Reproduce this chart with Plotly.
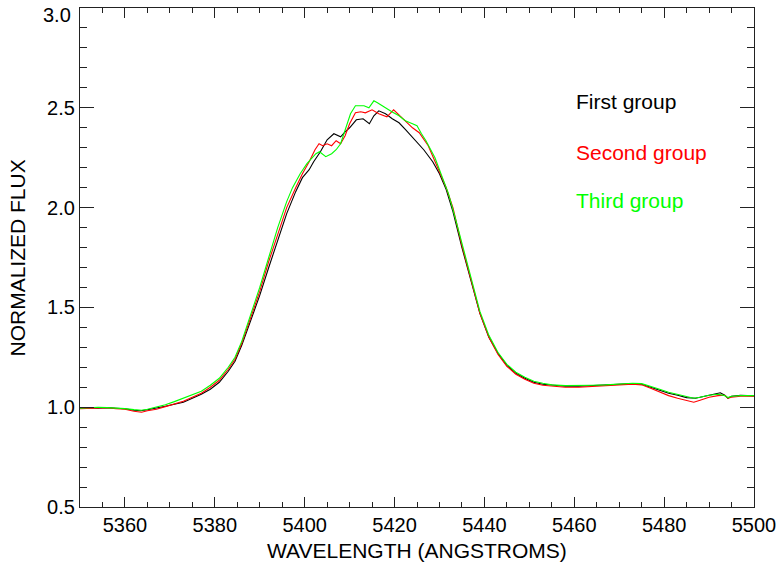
import plotly.graph_objects as go

# ---- data ----
wave_first = [5350, 5352, 5354, 5356, 5358, 5360, 5362, 5363.5, 5365, 5367, 5369, 5371, 5373, 5375,
              5377, 5379, 5381, 5383, 5384.5, 5386, 5388, 5390, 5392, 5394, 5396, 5398, 5399.5, 5401,
              5402, 5403.5, 5405, 5406.5, 5408, 5409, 5410, 5411.5, 5413, 5414.4, 5415.4, 5416.5, 5418,
              5419.5, 5421, 5422.5, 5424.5, 5426.5, 5428.5, 5430, 5431.5, 5433, 5435, 5437, 5439, 5441,
              5443, 5445, 5447, 5449, 5451, 5453, 5455, 5458, 5461, 5464, 5467, 5470, 5473, 5475, 5477,
              5479, 5481, 5483, 5485, 5487, 5489, 5491, 5492.5, 5493.5, 5494.2, 5495, 5497, 5500]
flux_first = [0.995, 0.997, 0.995, 0.998, 0.995, 0.992, 0.985, 0.982, 0.987, 0.995, 1.005, 1.015, 1.025, 1.045,
              1.065, 1.09, 1.125, 1.18, 1.23, 1.31, 1.43, 1.56, 1.70, 1.84, 1.97, 2.08, 2.15, 2.19,
              2.23, 2.28, 2.34, 2.37, 2.355, 2.38, 2.40, 2.44, 2.445, 2.42, 2.46, 2.485, 2.47,
              2.445, 2.425, 2.39, 2.34, 2.29, 2.23, 2.17, 2.09, 1.98, 1.80, 1.63, 1.47, 1.35,
              1.27, 1.21, 1.17, 1.145, 1.125, 1.115, 1.11, 1.105, 1.105, 1.108, 1.11, 1.115, 1.118, 1.115, 1.10,
              1.085, 1.07, 1.06, 1.048, 1.045, 1.055, 1.065, 1.072, 1.06, 1.045, 1.055, 1.06, 1.057]

wave_second = [5350, 5352, 5354, 5356, 5358, 5360, 5362, 5363.7, 5365, 5367, 5369, 5371, 5373, 5375,
               5377, 5379, 5381, 5383, 5384.5, 5386, 5388, 5390, 5392, 5394, 5396, 5398, 5399.5, 5401,
               5402.3, 5403.2, 5404, 5405, 5406, 5407, 5408, 5409, 5410, 5411.3, 5412.5, 5413.5, 5415,
               5416.5, 5418.3, 5419.8, 5421, 5422.5, 5424, 5425.5, 5427.5, 5429.8, 5431.5, 5433, 5435,
               5437, 5439, 5441, 5443, 5445, 5447, 5449, 5451, 5453, 5455, 5458, 5461, 5464, 5467, 5470,
               5473, 5475, 5477, 5479, 5481, 5483, 5485, 5486.6, 5488, 5490, 5492, 5493.5, 5494.2, 5495,
               5497, 5500]
flux_second = [0.993, 0.995, 0.997, 0.997, 0.993, 0.99, 0.98, 0.975, 0.982, 0.99, 1.003, 1.015, 1.03, 1.05,
               1.07, 1.10, 1.135, 1.19, 1.24, 1.32, 1.45, 1.58, 1.73, 1.87, 2.0, 2.10, 2.17, 2.23,
               2.29, 2.32, 2.31, 2.32, 2.31, 2.335, 2.32, 2.36, 2.42, 2.475, 2.48, 2.475, 2.49,
               2.47, 2.455, 2.49, 2.465, 2.43, 2.40, 2.375, 2.31, 2.19, 2.10, 2.0, 1.81,
               1.64, 1.47, 1.35, 1.265, 1.205, 1.165, 1.14, 1.12, 1.11, 1.105, 1.10, 1.10, 1.105, 1.108, 1.112,
               1.115, 1.112, 1.095, 1.075, 1.058, 1.045, 1.032, 1.025, 1.035, 1.05, 1.058, 1.06, 1.045, 1.05,
               1.055, 1.055]

wave_third = [5350, 5352, 5354, 5356, 5358, 5360, 5362, 5363.7, 5365, 5367, 5369, 5371, 5373, 5375,
              5377, 5379, 5381, 5383, 5384.5, 5386, 5388, 5390, 5392, 5394, 5396, 5397.3, 5399, 5400.5,
              5401.5, 5402.5, 5403.3, 5404.7, 5406, 5407, 5408, 5408.7, 5410.2, 5411.3, 5413.2, 5414.3,
              5415.4, 5416.2, 5417.2, 5419.4, 5421, 5422.4, 5424, 5425, 5426, 5427, 5429, 5430.5, 5432,
              5433.5, 5435, 5437, 5439, 5441, 5443, 5445, 5447, 5449, 5451, 5453, 5455, 5458, 5461, 5464,
              5467, 5470, 5473, 5475, 5477, 5479, 5481, 5483, 5485, 5486.6, 5488, 5490, 5492, 5493.5,
              5494.2, 5495, 5497, 5500]
flux_third = [0.995, 0.997, 1.0, 0.998, 0.996, 0.993, 0.988, 0.985, 0.99, 1.0, 1.012, 1.028, 1.045, 1.06,
              1.08, 1.11, 1.145, 1.2, 1.25, 1.33, 1.46, 1.60, 1.75, 1.90, 2.03, 2.10, 2.17, 2.22,
              2.245, 2.27, 2.28, 2.255, 2.27, 2.29, 2.32, 2.37, 2.47, 2.51, 2.51, 2.50,
              2.535, 2.525, 2.51, 2.48, 2.46, 2.435, 2.42, 2.41, 2.37, 2.335, 2.25, 2.16, 2.07,
              1.95, 1.82, 1.645, 1.48, 1.36, 1.275, 1.215, 1.175, 1.15, 1.13, 1.12, 1.112, 1.108, 1.108, 1.11,
              1.112, 1.115, 1.12, 1.118, 1.105, 1.09, 1.075, 1.065, 1.052, 1.045, 1.05, 1.06, 1.065, 1.058,
              1.048, 1.055, 1.058, 1.058]

series_names = ["First group", "Second group", "Third group"]
series_colors = ["#000000", "#ff0000", "#00ff00"]
series_waves = [wave_first, wave_second, wave_third]
series_flux = [flux_first, flux_second, flux_third]

y_tickvals = [0.5, 1.0, 1.5, 2.0, 2.5, 3.0]
y_ticktext = ["0.5", "1.0", "1.5", "2.0", "2.5", ""]
top_label = "3.0"

FONT = "Liberation Sans, Arial, Helvetica, sans-serif"
FS_TICK = 20
FS_TITLE = 21

fig = go.Figure()
for name, col, w, f in zip(series_names, series_colors, series_waves, series_flux):
    fig.add_trace(go.Scatter(x=w, y=f, mode="lines", name=name,
                             line=dict(color=col, width=1.1), showlegend=False))

# legend-like labels
label_y = [2.53, 2.275, 2.035]
for name, col, yy in zip(series_names, series_colors, label_y):
    fig.add_annotation(x=5460, y=yy, xref="x", yref="y", text=name, showarrow=False,
                       xanchor="left", yanchor="middle", font=dict(family=FONT, size=FS_TITLE, color=col))

axis_common = dict(showline=True, linecolor="#222222", linewidth=1.3, mirror="ticks",
                   ticks="inside", tickcolor="#222222", tickwidth=1.3, showgrid=False, zeroline=False,
                   tickfont=dict(family=FONT, size=FS_TICK, color="#000000"))

fig.update_xaxes(range=[5350, 5500.001], dtick=20, tick0=5340, ticklen=10,
                 minor=dict(dtick=5, ticklen=5, ticks="inside", tickcolor="#222222", tickwidth=1.3),
                 **axis_common)
fig.update_yaxes(range=[0.5, 3.0001], tickmode="array", tickvals=y_tickvals, ticktext=y_ticktext,
                 ticklen=14,
                 minor=dict(dtick=0.1, ticklen=7, ticks="inside", tickcolor="#222222", tickwidth=1.3),
                 **axis_common)

# top y label, nudged down inside the figure as in the reference
fig.add_annotation(x=-0.011, y=0.985, xref="paper", yref="paper", text=top_label, showarrow=False,
                   xanchor="right", yanchor="middle", font=dict(family=FONT, size=FS_TICK, color="#000000"))

fig.add_annotation(x=0.5, y=-0.087, xref="paper", yref="paper", text="WAVELENGTH (ANGSTROMS)",
                   showarrow=False, xanchor="center", yanchor="middle",
                   font=dict(family=FONT, size=FS_TITLE, color="#000000"))
fig.add_annotation(x=-0.092, y=0.5, xref="paper", yref="paper", text="NORMALIZED FLUX",
                   showarrow=False, xanchor="center", yanchor="middle", textangle=-90,
                   font=dict(family=FONT, size=FS_TITLE, color="#000000"))

fig.update_layout(width=783, height=567, margin=dict(l=80, r=26, t=7, b=60),
                  paper_bgcolor="white", plot_bgcolor="white")

fig.write_html("out.html")
